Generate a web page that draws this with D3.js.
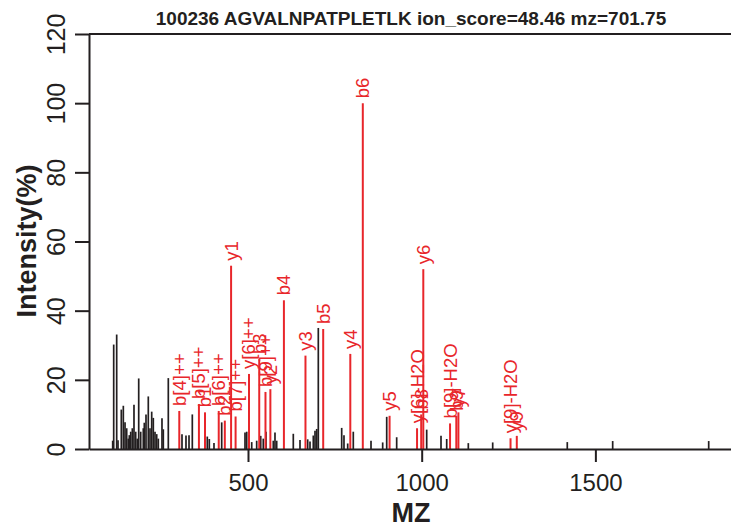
<!DOCTYPE html>
<html>
<head>
<meta charset="utf-8">
<script src="https://cdn.jsdelivr.net/npm/d3@7"></script>
<style>
  html, body { margin: 0; padding: 0; background: #fff; }
  svg { display: block; font-family: "Liberation Sans", Arial, Helvetica, sans-serif; }
</style>
</head>
<body>
<svg id="chart" width="731" height="527"></svg>
<script>
// ---- data ----
const titleText = "100236 AGVALNPATPLETLK ion_score=48.46 mz=701.75";
const xTicks = [500, 1000, 1500];
const yTicks = [0, 20, 40, 60, 80, 100, 120];

// unmatched peaks (m/z, relative intensity %)
const peakMz = [110.5, 113.4, 122.0, 125.8, 135.3, 141.1, 146.0, 150.8, 155.4, 158.3, 162.4, 167.0,
  171.8, 176.7, 181.3, 185.4, 191.1, 198.6, 201.5, 206.4, 213.0, 217.9, 222.8, 227.4, 232.3, 237.2,
  241.8, 252.4, 256.2, 270.6, 310.0, 321.5, 330.2, 339.7, 382.8, 388.6, 402.1, 424.3, 491.4, 496.3,
  510.7, 525.0, 536.6, 544.0, 551.8, 572.8, 577.7, 582.6, 630.4, 649.7, 671.8, 678.5, 688.0, 692.9,
  697.8, 702.4, 769.7, 776.3, 787.0, 803.1, 854.1, 887.7, 899.3, 928.0, 1014.4, 1055.6, 1072.0,
  1134.2, 1204.4, 1419.1, 1549.8, 1826.2];
const peakInt = [2.4, 30.2, 33.1, 2.5, 11.4, 12.5, 7.7, 6, 3, 4, 5, 6,
  12.8, 5, 3, 20.4, 5, 6, 7.6, 10, 15.2, 6, 10.8, 9, 5, 4.3,
  3, 8.9, 5.7, 20.5, 4.3, 3.9, 4, 10, 3.6, 2.9, 1.7, 7.7, 4.8, 5,
  2, 2.4, 3.8, 3, 5, 2.4, 4.8, 2.4, 4.4, 2.6, 2.8, 2.2, 3.9, 5.3,
  5.8, 35, 6.1, 4, 1.6, 5, 2.4, 1.9, 9.3, 3.4, 5.6, 3.8, 2.9,
  1.7, 1.9, 2, 2.3, 2.3];

// matched fragment ions
const ionLabel = ["b[4]++", "b[5]++", "b1", "b[6]++", "b2", "y1", "b[7]++", "y[6]++", "b3", "b[9]++",
  "y2", "b4", "y3", "b5", "y4", "b6", "y5", "y[6]-H2O", "b8", "y6", "b[9]-H2O", "b9", "y7",
  "y[9]-H2O", "y9"];
const ionMz = [302.19, 358.73, 376.25, 415.75, 433.27, 451.32, 464.28, 502.82, 532.34, 550.32,
  564.40, 603.38, 665.45, 716.46, 794.49, 830.50, 907.58, 986.62, 998.59, 1004.63, 1081.63, 1099.64,
  1105.68, 1255.76, 1273.77];
const ionInt = [11, 13, 10.6, 11, 8.2, 53, 9.4, 21.7, 26, 16.5,
  17.3, 43, 27, 34.7, 27.5, 100, 9.6, 6, 10, 52, 7.4, 9.6,
  10.6, 3.1, 3.8];

// ---- drawing ----
const M = { left: 89, right: 731, top: 34, bottom: 449 };
const svg = d3.select("#chart");
const red = "#e8262b";
const ink = "#231f20";

const x = d3.scaleLinear().domain([42.3, 1890.4]).range([M.left, M.right]);
const y = d3.scaleLinear().domain([0, 120]).range([M.bottom, M.top]);

// title
svg.append("text")
  .attr("x", 411).attr("y", 25)
  .attr("text-anchor", "middle")
  .attr("font-weight", "bold")
  .attr("font-size", 19)
  .attr("fill", ink)
  .text(titleText);

// black peaks
const peaks = peakMz.map((m, i) => ({ mz: m, v: peakInt[i] }));
svg.append("g").selectAll("line").data(peaks).join("line")
  .attr("x1", d => x(d.mz)).attr("x2", d => x(d.mz))
  .attr("y1", y(0)).attr("y2", d => y(d.v))
  .attr("stroke", ink).attr("stroke-width", 1.7);

// red ion peaks
const ions = ionMz.map((m, i) => ({ mz: m, v: ionInt[i], lab: ionLabel[i] }));
svg.append("g").selectAll("line").data(ions).join("line")
  .attr("x1", d => x(d.mz)).attr("x2", d => x(d.mz))
  .attr("y1", y(0)).attr("y2", d => y(d.v))
  .attr("stroke", red).attr("stroke-width", 2);

svg.append("g").selectAll("text").data(ions).join("text")
  .attr("transform", d => `translate(${x(d.mz)},${y(d.v) - 5}) rotate(-90)`)
  .attr("text-anchor", "start")
  .attr("dy", "0.35em")
  .attr("font-size", 18.5)
  .attr("fill", red)
  .text(d => d.lab);

// horizontal guide at top
svg.append("line")
  .attr("x1", M.left).attr("x2", M.right)
  .attr("y1", y(120)).attr("y2", y(120))
  .attr("stroke", ink).attr("stroke-width", 2);

// x axis
const gx = svg.append("g")
  .attr("transform", `translate(0,${M.bottom})`)
  .call(d3.axisBottom(x).tickValues(xTicks).tickSize(13).tickSizeOuter(0).tickPadding(12).tickFormat(d3.format("d")));
gx.select(".domain").attr("stroke", ink).attr("stroke-width", 2);
gx.selectAll(".tick line").attr("stroke", ink).attr("stroke-width", 2);
gx.selectAll(".tick text").attr("font-size", 24).attr("fill", ink)
  .attr("font-family", "Liberation Sans, Arial, sans-serif");

// y axis
const gy = svg.append("g")
  .attr("transform", `translate(${M.left},0)`)
  .call(d3.axisLeft(y).tickValues(yTicks).tickSize(14).tickSizeOuter(0).tickPadding(10));
gy.select(".domain").attr("stroke", ink).attr("stroke-width", 2);
gy.selectAll(".tick line").attr("stroke", ink).attr("stroke-width", 2);
gy.selectAll(".tick text")
  .attr("font-size", 25).attr("fill", ink)
  .attr("font-family", "Liberation Sans, Arial, sans-serif")
  .attr("transform", "rotate(-90)")
  .attr("x", 0).attr("y", -24).attr("dy", 0)
  .attr("text-anchor", "middle");

// axis titles
svg.append("text")
  .attr("x", 411).attr("y", 522)
  .attr("text-anchor", "middle")
  .attr("font-weight", "bold").attr("font-size", 27)
  .attr("fill", ink)
  .text("MZ");

svg.append("text")
  .attr("transform", `translate(36,241) rotate(-90)`)
  .attr("text-anchor", "middle")
  .attr("font-weight", "bold").attr("font-size", 27)
  .attr("fill", ink)
  .text("Intensity(%)");
</script>
</body>
</html>
